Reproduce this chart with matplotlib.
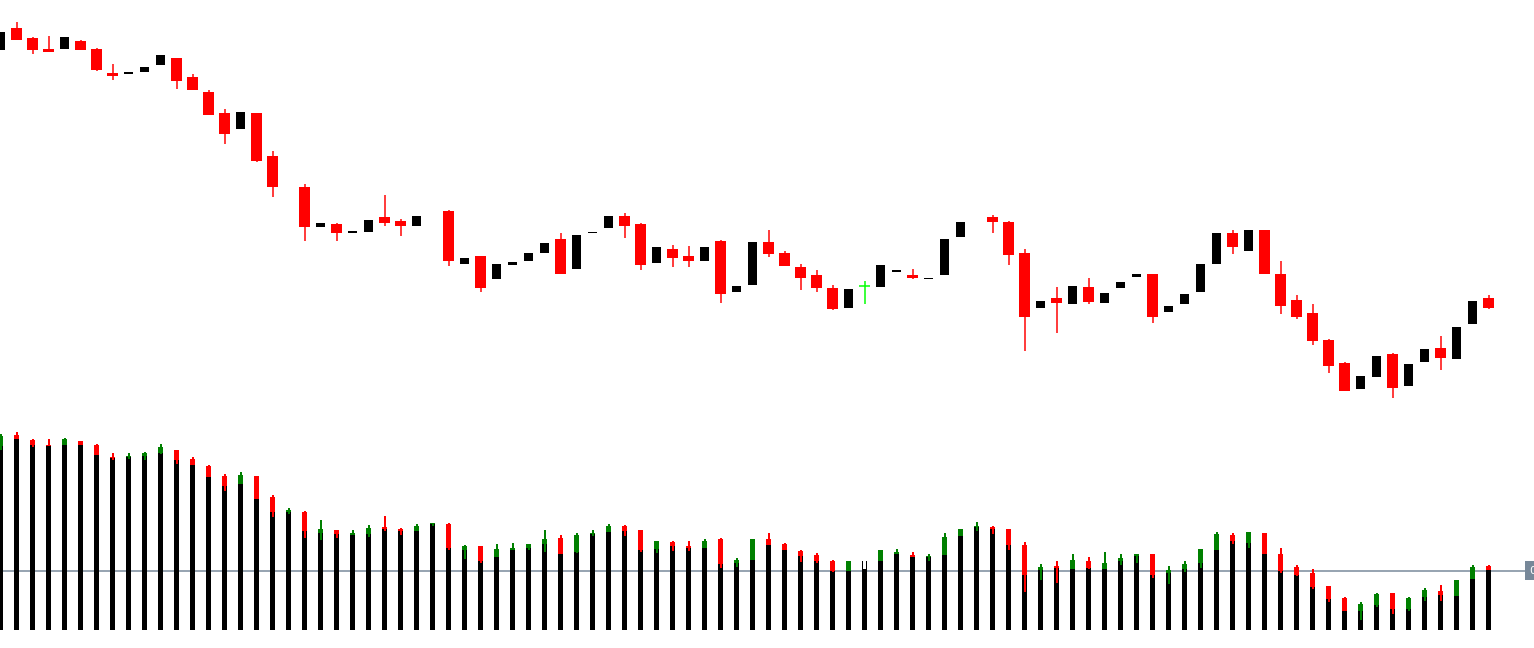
import numpy as np
import matplotlib
matplotlib.use("Agg")
import matplotlib.pyplot as plt
import matplotlib.transforms as mtransforms

nan = np.nan

# ---- main price panel (arbitrary price units) ----
main_open = [350, 372, 362, 351, 351, 359, 351, 327, 326, 328,
             335, 342, 323, 308, 287, 271, 287, 244, nan, 213,
             173, 176, 167, 168, 183, 179, 174, nan, 189, 136,
             144, 121, 135, 139, 147, 161, 131, 167, 172, 184,
             176, 137, 151, 144, 139, 159, 108, 115, 158, 147,
             133, 125, 112, 92, 114, 113, 128, 125, 121, 125,
             163, nan, 183, 178, 147, 92, 102, 96, 113, 97,
             112, 123, 126, 88, 96, 108, 136, 167, 149, 170,
             126, 100, 87, 60, 37, 11, 23, 46, 14, 38,
             52, 41, 76, 102]
main_close = [368, 360, 350, 348, 363, 350, 330, 324, 328, 333,
              345, 319, 310, 285, 266, 288, 239, 213, nan, 173,
              177, 167, 169, 180, 177, 174, 184, nan, 139, 142,
              112, 136, 138, 147, 157, 126, 165, 168, 184, 174,
              135, 153, 142, 139, 153, 106, 114, 158, 146, 134,
              122, 112, 91, 111, 114, 135, 130, 122, 122, 161,
              178, nan, 178, 145, 83, 99, 97, 114, 98, 107,
              118, 126, 83, 94, 106, 136, 167, 153, 170, 126,
              94, 83, 59, 34, 9, 24, 44, 12, 36, 51,
              42, 73, 99, 92]
main_high = [368, 378, 363, 364, 363, 360, 352, 336, 328, 333,
             345, 342, 326, 310, 291, 288, 287, 249, nan, 216,
             177, 177, 169, 180, 205, 181, 184, nan, 190, 142,
             144, 136, 138, 147, 157, 167, 165, 168, 184, 187,
             177, 153, 155, 154, 153, 160, 114, 158, 170, 149,
             136, 130, 115, 111, 119, 135, 130, 131, 122, 161,
             178, nan, 185, 179, 151, 99, 113, 114, 122, 107,
             118, 126, 126, 94, 106, 136, 167, 170, 170, 170,
             139, 105, 96, 61, 38, 24, 44, 47, 36, 51,
             64, 73, 99, 105]
main_low = [350, 360, 346, 348, 351, 350, 329, 320, 326, 328,
            335, 311, 310, 285, 256, 271, 238, 203, nan, 159,
            173, 159, 167, 168, 174, 164, 174, nan, 134, 136,
            108, 121, 135, 139, 147, 126, 131, 167, 172, 162,
            130, 137, 133, 133, 139, 97, 108, 115, 143, 134,
            110, 108, 90, 92, 96, 113, 128, 121, 121, 125,
            163, nan, 167, 135, 49, 92, 67, 96, 96, 97,
            112, 123, 77, 88, 96, 108, 136, 146, 149, 126,
            86, 81, 55, 27, 9, 11, 23, 2, 14, 38,
            30, 41, 76, 91]

# ---- lower indicator panel (arbitrary units, baseline 0) ----
sub_open = [184, 195, 190, 185, 185, 189, 185, 173, 173, 174,
            177, 180, 171, 164, 154, 146, 154, 133, 118, 118,
            97, 100, 95, 96, 103, 101, 99, 106, 106, 80,
            84, 73, 80, 82, 86, 92, 78, 96, 98, 104,
            100, 81, 88, 84, 82, 91, 67, 70, 91, 86,
            79, 75, 69, 59, 61, 69, 76, 75, 73, 75,
            94, 103, 103, 101, 85, 60, 64, 61, 69, 61,
            69, 74, 76, 57, 61, 67, 80, 95, 87, 97,
            76, 63, 57, 44, 32, 19, 25, 37, 21, 33,
            39, 34, 51, 64]
sub_close = [194, 191, 185, 184, 191, 185, 175, 172, 174, 177,
             183, 170, 165, 153, 144, 155, 131, 118, 120, 99,
             101, 96, 97, 102, 101, 99, 104, 107, 82, 84,
             69, 81, 82, 86, 91, 76, 95, 97, 104, 99,
             80, 89, 84, 82, 89, 66, 70, 91, 85, 80,
             74, 69, 59, 69, 69, 80, 78, 73, 74, 93,
             101, 104, 101, 85, 55, 63, 62, 70, 62, 67,
             72, 76, 55, 60, 66, 81, 96, 89, 98, 76,
             59, 55, 43, 31, 19, 26, 36, 21, 32, 40,
             35, 50, 63, 60]
sub_high = [196, 198, 191, 191, 192, 189, 186, 177, 177, 178,
            186, 180, 173, 165, 156, 158, 154, 135, 122, 119,
            110, 100, 100, 105, 114, 102, 106, 107, 107, 85,
            84, 86, 87, 86, 100, 95, 97, 100, 106, 105,
            100, 89, 89, 89, 91, 92, 72, 91, 97, 87,
            80, 77, 70, 69, 69, 80, 81, 78, 76, 97,
            101, 108, 104, 101, 88, 66, 69, 76, 73, 78,
            76, 76, 76, 64, 69, 81, 98, 97, 98, 97,
            82, 65, 61, 44, 33, 28, 37, 37, 33, 42,
            45, 50, 65, 65]
sub_low = [180, 191, 183, 184, 185, 185, 175, 170, 171, 170,
           176, 166, 165, 153, 139, 146, 131, 113, 116, 92,
           90, 92, 95, 93, 99, 95, 99, 104, 80, 71,
           67, 73, 80, 80, 78, 76, 77, 94, 98, 94,
           78, 77, 79, 79, 82, 62, 63, 70, 85, 80,
           68, 67, 58, 59, 61, 69, 76, 73, 69, 75,
           94, 99, 96, 80, 38, 50, 47, 61, 61, 61,
           65, 67, 52, 46, 58, 62, 80, 86, 82, 76,
           57, 54, 41, 28, 19, 10, 23, 16, 19, 29,
           29, 34, 51, 60]
sub_level = 59.5
level_label = "0.00"

n = len(main_open)
x = np.arange(n)
mo, mc = np.array(main_open, float), np.array(main_close, float)
mh, ml = np.array(main_high, float), np.array(main_low, float)
so, sc = np.array(sub_open, float), np.array(sub_close, float)
sh, sl = np.array(sub_high, float), np.array(sub_low, float)

W, H = 1534, 648
fig = plt.figure(figsize=(W / 100, H / 100), dpi=100)
fig.patch.set_facecolor("white")

step = 16.0
xlim = (-0.5 / step, (W - 0.5) / step)
px = 1 / step  # one pixel in x data units
lw_px = 0.72    # one pixel in points

# ---- main axes ----
ax = fig.add_axes([0, 238 / H, 1, 410 / H])
ax.set_xlim(*xlim)
ax.set_ylim(-10, 400)
ax.axis("off")

valid = ~np.isnan(mo)
bull = valid & (mc > mo)
bear = valid & (mc < mo)
doji = valid & (mc == mo)

# bear candles: red with wicks
ax.vlines(x[bear], ml[bear], mh[bear], color="#ff0000", lw=1.5 * lw_px)
ax.bar(x[bear], (mo - mc)[bear], bottom=mc[bear], width=11 * px,
       color="#ff0000", linewidth=0)
# bull candles: black bodies
ax.bar(x[bull], (mc - mo)[bull], bottom=mo[bull], width=9 * px,
       color="#000000", linewidth=0)
# doji: green cross
ax.vlines(x[doji], ml[doji], mh[doji], color="#00ff00", lw=1.5 * lw_px)
ax.hlines(mo[doji], x[doji] - 5.5 * px, x[doji] + 5.5 * px,
          color="#00ff00", lw=1.5 * lw_px)

# ---- lower axes ----
bx = fig.add_axes([0, 0, 1, 228 / H])
bx.set_xlim(*xlim)
bx.set_ylim(-18, 210)
bx.axis("off")

bx.axhline(sub_level, color="#778899", lw=1.5 * lw_px, zorder=1)

body_lo = np.minimum(so, sc)
body_hi = np.maximum(so, sc)
bx.bar(x, body_lo, bottom=0, width=5 * px, color="#000000", linewidth=0, zorder=2)

sup = (sc > so) & ~doji
sdn = (sc < so) & ~doji
bx.vlines(x[sup], sl[sup], sh[sup], color="#008000", lw=2 * lw_px, zorder=3)
bx.bar(x[sup], (body_hi - body_lo)[sup], bottom=body_lo[sup], width=5 * px,
       color="#008000", linewidth=0, zorder=3)
bx.vlines(x[sdn], sl[sdn], sh[sdn], color="#ff0000", lw=2 * lw_px, zorder=3)
bx.bar(x[sdn], (body_hi - body_lo)[sdn], bottom=body_lo[sdn], width=5 * px,
       color="#ff0000", linewidth=0, zorder=3)
# hollow candle where main bar is a doji
bx.bar(x[doji], (body_hi - body_lo)[doji], bottom=body_lo[doji], width=5 * px,
       color="#000000", linewidth=0, zorder=3)
bx.bar(x[doji], (body_hi - body_lo)[doji], bottom=body_lo[doji], width=3 * px,
       color="#ffffff", linewidth=0, zorder=4)

# level label box at right edge (partly beyond the edge, as in the original)
trans = mtransforms.blended_transform_factory(bx.transAxes, bx.transData)
bx.text(1 - 5 / W, sub_level, level_label, transform=trans, ha="left",
        va="center", color="white", fontsize=8, clip_on=False,
        bbox=dict(boxstyle="square,pad=0.4", facecolor="#778899",
                  edgecolor="none"))

fig.savefig("out.png", dpi=100, facecolor="white")
